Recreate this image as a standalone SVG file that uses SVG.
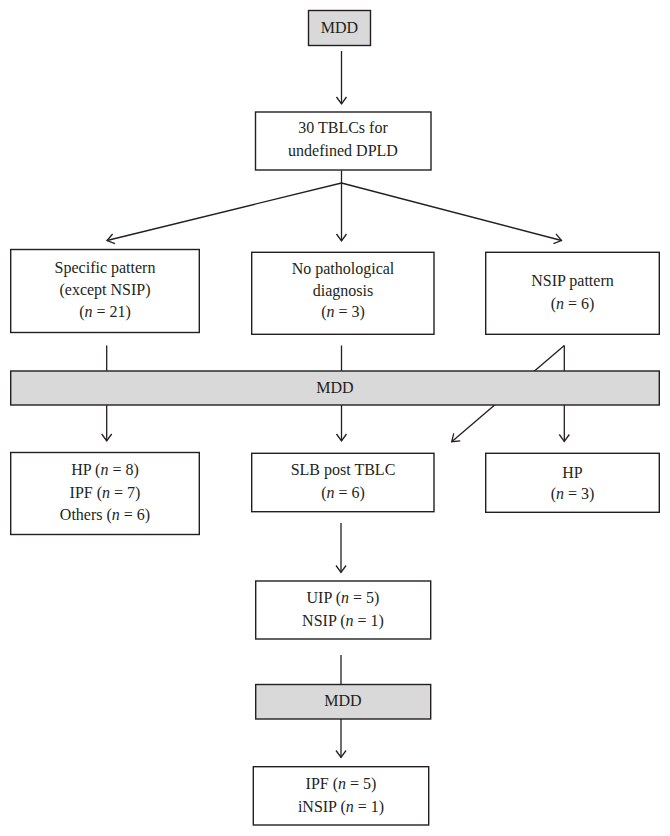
<svg xmlns="http://www.w3.org/2000/svg" width="670" height="836" viewBox="0 0 670 836">
<style>
.box{fill:#ffffff;stroke:#231f20;stroke-width:1.4}
.grey{fill:#d9d9d9;stroke:#231f20;stroke-width:1.4}
.t{font-family:"Liberation Serif","Times New Roman",serif;font-size:16px;fill:#231f20;text-anchor:middle}
.i{font-style:italic}
.c{fill:none;stroke:#231f20;stroke-width:1.3}
</style>
<defs>
<marker id="arr" markerUnits="userSpaceOnUse" markerWidth="14" markerHeight="14" viewBox="0 0 14 14" refX="10" refY="7" orient="auto">
<path d="M3,2 L10,7 L3,12" fill="none" stroke="#231f20" stroke-width="1.3"/>
</marker>
</defs>
<rect width="670" height="836" fill="#ffffff"/>
<g id="connectors">
<line class="c" x1="341.5" y1="51" x2="341.5" y2="104" marker-end="url(#arr)"/>
<line class="c" x1="341.5" y1="170.5" x2="341.5" y2="183"/>
<line class="c" x1="341.5" y1="183" x2="107" y2="240.5" marker-end="url(#arr)"/>
<line class="c" x1="341.5" y1="183" x2="341.5" y2="241" marker-end="url(#arr)"/>
<line class="c" x1="341.5" y1="183" x2="561.5" y2="240.5" marker-end="url(#arr)"/>
<line class="c" x1="106.7" y1="345.5" x2="106.7" y2="371"/>
<line class="c" x1="341.5" y1="345.5" x2="341.5" y2="371"/>
<line class="c" x1="564.3" y1="345.5" x2="564.3" y2="371"/>
<line class="c" x1="564.3" y1="345.5" x2="451.7" y2="441.7" marker-end="url(#arr)"/>
<line class="c" x1="106.7" y1="405" x2="106.7" y2="441" marker-end="url(#arr)"/>
<line class="c" x1="341.5" y1="405" x2="341.5" y2="441" marker-end="url(#arr)"/>
<line class="c" x1="564.3" y1="405" x2="564.3" y2="441.5" marker-end="url(#arr)"/>
<line class="c" x1="341" y1="523" x2="341" y2="572.5" marker-end="url(#arr)"/>
<line class="c" x1="341" y1="655" x2="341" y2="684.5"/>
<line class="c" x1="341" y1="719" x2="341" y2="757.5" marker-end="url(#arr)"/>
</g>
<g id="mdd-top">
<rect class="grey" x="308.5" y="10.5" width="62" height="35"/>
<text class="t" x="339.5" y="33">MDD</text>
</g>
<g id="tblc">
<rect class="box" x="255.5" y="112" width="175.5" height="58"/>
<text class="t" x="343" y="133">30 TBLCs for</text>
<text class="t" x="343" y="156">undefined DPLD</text>
</g>
<g id="specific">
<rect class="box" x="10.7" y="249.5" width="188.6" height="83"/>
<text class="t" x="105" y="273">Specific pattern</text>
<text class="t" x="105" y="295">(except NSIP)</text>
<text class="t" x="105" y="317">(<tspan class="i">n</tspan> = 21)</text>
</g>
<g id="nopath">
<rect class="box" x="251.7" y="252.3" width="182.3" height="82"/>
<text class="t" x="343" y="274">No pathological</text>
<text class="t" x="343" y="295.5">diagnosis</text>
<text class="t" x="343" y="316.5">(<tspan class="i">n</tspan> = 3)</text>
</g>
<g id="nsip">
<rect class="box" x="485.7" y="252.3" width="173.6" height="82"/>
<text class="t" x="572.5" y="286">NSIP pattern</text>
<text class="t" x="572.5" y="309">(<tspan class="i">n</tspan> = 6)</text>
</g>
<g id="mdd-bar">
<rect class="grey" x="10.7" y="371" width="648.6" height="34"/>
<text class="t" x="335" y="393">MDD</text>
</g>
<g id="hp-ipf">
<rect class="box" x="10.7" y="452.5" width="188.6" height="82"/>
<text class="t" x="105" y="475">HP (<tspan class="i">n</tspan> = 8)</text>
<text class="t" x="105" y="497.5">IPF (<tspan class="i">n</tspan> = 7)</text>
<text class="t" x="105" y="520">Others (<tspan class="i">n</tspan> = 6)</text>
</g>
<g id="slb">
<rect class="box" x="251.7" y="453.3" width="182.3" height="58.4"/>
<text class="t" x="343" y="475">SLB post TBLC</text>
<text class="t" x="343" y="497.5">(<tspan class="i">n</tspan> = 6)</text>
</g>
<g id="hp">
<rect class="box" x="485.7" y="453.3" width="173.6" height="59"/>
<text class="t" x="572.5" y="477.5">HP</text>
<text class="t" x="572.5" y="498.5">(<tspan class="i">n</tspan> = 3)</text>
</g>
<g id="uip">
<rect class="box" x="255.7" y="581" width="175" height="58"/>
<text class="t" x="343" y="602.5">UIP (<tspan class="i">n</tspan> = 5)</text>
<text class="t" x="343" y="626">NSIP (<tspan class="i">n</tspan> = 1)</text>
</g>
<g id="mdd-bottom">
<rect class="grey" x="255.7" y="684.5" width="175" height="34.5"/>
<text class="t" x="343" y="706">MDD</text>
</g>
<g id="ipf">
<rect class="box" x="253.3" y="766.7" width="175.4" height="58.3"/>
<text class="t" x="341" y="788.5">IPF (<tspan class="i">n</tspan> = 5)</text>
<text class="t" x="341" y="812">iNSIP (<tspan class="i">n</tspan> = 1)</text>
</g>
</svg>
